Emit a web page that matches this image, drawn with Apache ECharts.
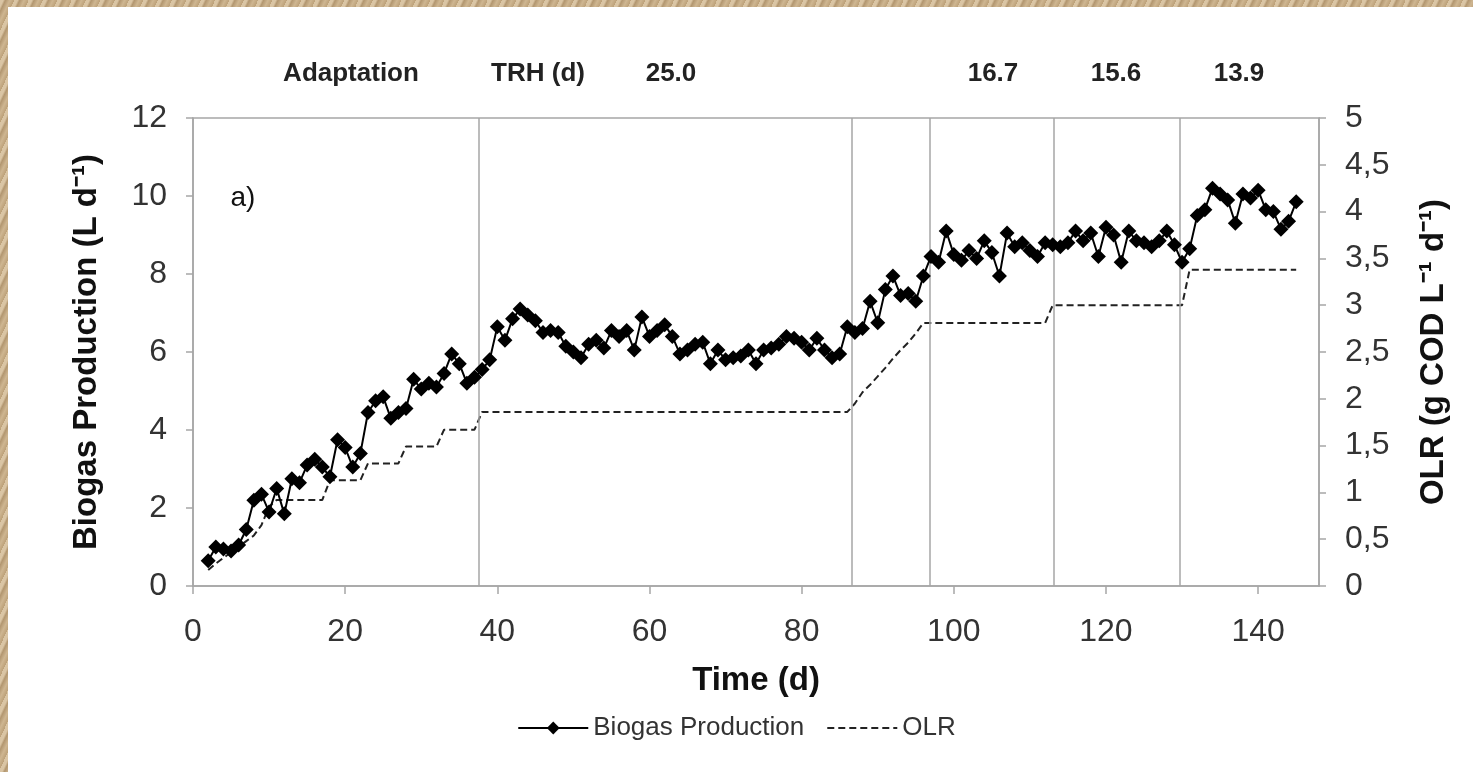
<!DOCTYPE html>
<html><head><meta charset="utf-8">
<script src="https://cdn.jsdelivr.net/npm/echarts@6/dist/echarts.min.js"></script>
<style>
html,body{margin:0;padding:0;width:1473px;height:772px;overflow:hidden;}
body{background-color:#c6ab83;
background-image:repeating-linear-gradient(115deg,rgba(255,245,225,0.35) 0px,rgba(255,245,225,0.35) 3px,rgba(120,90,55,0.25) 5px,rgba(255,245,225,0.15) 9px,rgba(150,120,80,0.2) 13px);}
#panel{position:absolute;left:8px;top:7px;width:1465px;height:765px;background:#fff;}
#chart{position:absolute;left:0;top:0;width:1473px;height:772px;}
</style></head><body><div id="panel"></div><div id="chart"></div>
<script>
// ---- data ----
const days = [2,3,4,5,6,7,8,9,10,11,12,13,14,15,16,17,18,19,20,21,22,23,24,25,26,27,28,29,30,31,32,33,34,35,36,37,38,39,40,41,42,43,44,45,46,47,48,49,50,51,52,53,54,55,56,57,58,59,60,61,62,63,64,65,66,67,68,69,70,71,72,73,74,75,76,77,78,79,80,81,82,83,84,85,86,87,88,89,90,91,92,93,94,95,96,97,98,99,100,101,102,103,104,105,106,107,108,109,110,111,112,113,114,115,116,117,118,119,120,121,122,123,124,125,126,127,128,129,130,131,132,133,134,135,136,137,138,139,140,141,142,143,144,145];
const biogas = [0.65,1.0,0.95,0.9,1.05,1.45,2.2,2.35,1.9,2.5,1.85,2.75,2.65,3.1,3.25,3.05,2.8,3.75,3.55,3.05,3.4,4.45,4.75,4.85,4.3,4.45,4.55,5.3,5.05,5.2,5.1,5.45,5.95,5.7,5.2,5.35,5.55,5.8,6.65,6.3,6.85,7.1,6.95,6.8,6.5,6.55,6.5,6.15,6.0,5.85,6.2,6.3,6.1,6.55,6.4,6.55,6.05,6.9,6.4,6.55,6.7,6.4,5.95,6.05,6.2,6.25,5.7,6.05,5.8,5.85,5.9,6.05,5.7,6.05,6.1,6.2,6.4,6.35,6.25,6.05,6.35,6.05,5.85,5.95,6.65,6.5,6.6,7.3,6.75,7.6,7.95,7.45,7.5,7.3,7.95,8.45,8.3,9.1,8.5,8.35,8.6,8.4,8.85,8.55,7.95,9.05,8.7,8.8,8.6,8.45,8.8,8.75,8.7,8.8,9.1,8.85,9.05,8.45,9.2,9.0,8.3,9.1,8.85,8.8,8.7,8.85,9.1,8.75,8.3,8.65,9.5,9.65,10.2,10.05,9.9,9.3,10.05,9.95,10.15,9.65,9.6,9.15,9.35,9.85];
const olr = [0.17,0.24,0.3,0.36,0.42,0.48,0.54,0.65,0.85,0.92,0.92,0.92,0.92,0.92,0.92,0.92,1.13,1.13,1.13,1.13,1.13,1.31,1.31,1.31,1.31,1.31,1.49,1.49,1.49,1.49,1.49,1.67,1.67,1.67,1.67,1.67,1.86,1.86,1.86,1.86,1.86,1.86,1.86,1.86,1.86,1.86,1.86,1.86,1.86,1.86,1.86,1.86,1.86,1.86,1.86,1.86,1.86,1.86,1.86,1.86,1.86,1.86,1.86,1.86,1.86,1.86,1.86,1.86,1.86,1.86,1.86,1.86,1.86,1.86,1.86,1.86,1.86,1.86,1.86,1.86,1.86,1.86,1.86,1.86,1.86,1.95,2.07,2.15,2.24,2.33,2.43,2.52,2.6,2.7,2.81,2.81,2.81,2.81,2.81,2.81,2.81,2.81,2.81,2.81,2.81,2.81,2.81,2.81,2.81,2.81,2.81,3.0,3.0,3.0,3.0,3.0,3.0,3.0,3.0,3.0,3.0,3.0,3.0,3.0,3.0,3.0,3.0,3.0,3.0,3.38,3.38,3.38,3.38,3.38,3.38,3.38,3.38,3.38,3.38,3.38,3.38,3.38,3.38,3.38];
const phaseBoundaries = [37.5, 86.6, 96.9, 113.2, 129.7];
const topLabels = ['Adaptation', 'TRH (d)', '25.0', '16.7', '15.6', '13.9'];
const topLabelX = [351, 538, 671, 993, 1116, 1239];
const seriesNames = ['Biogas Production', 'OLR'];
const xTitle = 'Time (d)';
const yLeftTitle = 'Biogas Production (L d\u207B\u00B9)';
const yRightTitle = 'OLR (g COD L\u207B\u00B9 d\u207B\u00B9)';
const panelTag = 'a)';

// ---- chart ----
const FONT = "'Liberation Sans', Arial, sans-serif";
const chart = echarts.init(document.getElementById('chart'), null, {renderer: 'canvas'});
const bio = days.map((d, i) => [d, biogas[i]]);
const ol = days.map((d, i) => [d, olr[i]]);
const axisGray = '#a6a6a6';

const graphics = topLabels.map((t, i) => ({
  type: 'text', x: topLabelX[i], y: 74,
  style: {text: t, fill: '#222', font: "bold 26px " + FONT, textAlign: 'center', textVerticalAlign: 'middle'}
}));
graphics.push({type: 'text', x: 243, y: 198,
  style: {text: panelTag, fill: '#111', font: "28px " + FONT, textAlign: 'center', textVerticalAlign: 'middle'}});

chart.setOption({
  animation: false,
  backgroundColor: 'transparent',
  textStyle: {fontFamily: FONT},
  grid: {left: 193, right: 154, top: 118, bottom: 186, show: true, borderColor: axisGray, borderWidth: 1.5, backgroundColor: 'transparent'},
  legend: {
    data: [
      {name: seriesNames[0]},
      {name: seriesNames[1], itemStyle: {color: 'transparent', borderColor: 'transparent', borderWidth: 0}}
    ],
    left: 'center', top: 710, itemWidth: 70, itemHeight: 16, itemGap: 22,
    textStyle: {fontSize: 26, color: '#333', fontFamily: FONT}
  },
  xAxis: {
    type: 'value', min: 0, max: 148, interval: 20,
    name: xTitle, nameLocation: 'middle', nameGap: 78,
    nameTextStyle: {fontSize: 33, fontWeight: 'bold', color: '#111', fontFamily: FONT},
    axisLine: {lineStyle: {color: axisGray, width: 1.5}},
    axisTick: {length: 8, lineStyle: {color: axisGray, width: 1.5}},
    axisLabel: {fontSize: 32, color: '#333', margin: 30, showMaxLabel: false,
      formatter: v => (v % 20 === 0 ? String(v) : '')},
    splitLine: {show: false}
  },
  yAxis: [{
    type: 'value', min: 0, max: 12, interval: 2, position: 'left',
    name: yLeftTitle, nameLocation: 'middle', nameGap: 90,
    nameTextStyle: {fontSize: 33, fontWeight: 'bold', color: '#111', fontFamily: FONT},
    axisLine: {show: true, lineStyle: {color: axisGray, width: 1.5}},
    axisTick: {show: true, length: 7, lineStyle: {color: axisGray, width: 1.5}},
    axisLabel: {fontSize: 32, color: '#333', margin: 26},
    splitLine: {show: false}
  }, {
    type: 'value', min: 0, max: 5, interval: 0.5, position: 'right',
    name: yRightTitle, nameLocation: 'middle', nameGap: 98, nameRotate: 90,
    nameTextStyle: {fontSize: 33, fontWeight: 'bold', color: '#111', fontFamily: FONT},
    axisLine: {show: true, lineStyle: {color: axisGray, width: 1.5}},
    axisTick: {show: true, length: 7, lineStyle: {color: axisGray, width: 1.5}},
    axisLabel: {fontSize: 32, color: '#333', margin: 26,
      formatter: v => String(v).replace('.', ',')},
    splitLine: {show: false}
  }],
  series: [{
    name: seriesNames[0], type: 'line', yAxisIndex: 0, data: bio,
    symbol: 'diamond', symbolSize: 15, showAllSymbol: true,
    lineStyle: {color: '#000', width: 2}, itemStyle: {color: '#000'},
    z: 5,
    markLine: {
      silent: true, symbol: ['none', 'none'], label: {show: false},
      lineStyle: {color: axisGray, width: 1.5, type: 'solid'},
      data: phaseBoundaries.map(v => ({xAxis: v}))
    }
  }, {
    name: seriesNames[1], type: 'line', yAxisIndex: 1, data: ol,
    symbol: 'none', lineStyle: {color: '#222', width: 2, type: [7, 4]}, itemStyle: {color: '#222'},
    z: 4
  }],
  graphic: graphics
});
</script></body></html>
